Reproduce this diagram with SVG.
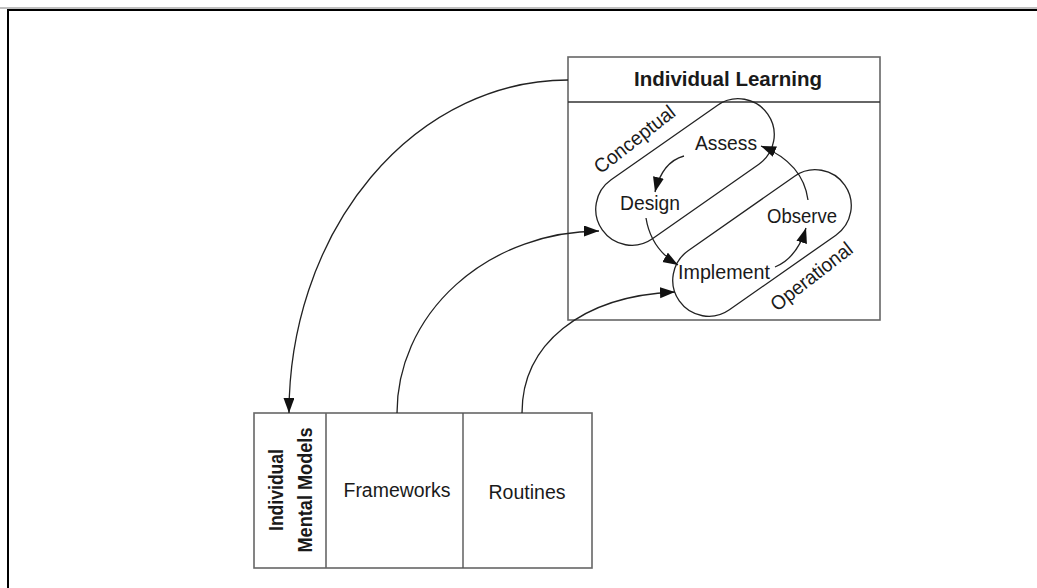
<svg xmlns="http://www.w3.org/2000/svg" width="1037" height="588" viewBox="0 0 1037 588">
<style>
.t{font-family:"Liberation Sans",Arial,sans-serif;font-size:20px;fill:#1a1a1a;text-anchor:middle}
.b{font-weight:bold}
.box{fill:#fff;stroke:#666;stroke-width:1.6}
.pill{fill:none;stroke:#222;stroke-width:1.3}
.con{fill:none;stroke:#222;stroke-width:1.3}
</style>
<defs>
<marker id="ah" markerUnits="userSpaceOnUse" markerWidth="16" markerHeight="12" refX="15" refY="5.5" orient="auto">
<path d="M0,0 L15,5.5 L0,11 z" fill="#111"/>
</marker>
</defs>
<rect width="1037" height="588" fill="#fff"/>
<line x1="0" y1="8" x2="1037" y2="8" stroke="#aaa" stroke-width="1.5"/>
<rect x="8" y="10" width="1040" height="600" fill="none" stroke="#000" stroke-width="2"/>

<g id="individual-learning">
<rect class="box" x="568" y="57" width="312" height="263"/>
<line x1="568" y1="102" x2="880" y2="102" stroke="#333" stroke-width="1.3"/>
<text class="t b" x="728" y="86" textLength="188" lengthAdjust="spacingAndGlyphs">Individual Learning</text>
</g>

<g id="conceptual">
<rect class="pill" x="-101" y="-36" width="202" height="72" rx="36" transform="translate(685,172) rotate(-35)"/>
<text class="t" transform="translate(635,140) rotate(-38)" y="6" textLength="97" lengthAdjust="spacingAndGlyphs">Conceptual</text>
</g>

<g id="operational">
<rect class="pill" x="-101" y="-36" width="202" height="72" rx="36" transform="translate(762,243) rotate(-35)"/>
<text class="t" transform="translate(812,277) rotate(-38)" y="6" textLength="98" lengthAdjust="spacingAndGlyphs">Operational</text>
</g>

<g id="assess"><text class="t" x="726" y="150" textLength="62" lengthAdjust="spacingAndGlyphs">Assess</text></g>
<g id="design"><text class="t" x="650" y="210" textLength="60" lengthAdjust="spacingAndGlyphs">Design</text></g>
<g id="observe"><text class="t" x="802" y="223" textLength="70" lengthAdjust="spacingAndGlyphs">Observe</text></g>
<g id="implement"><text class="t" x="724" y="279" textLength="92" lengthAdjust="spacingAndGlyphs">Implement</text></g>

<g id="mental-models">
<rect class="box" x="254" y="413" width="338" height="155"/>
<line x1="326" y1="413" x2="326" y2="568" stroke="#666" stroke-width="1.6"/>
<line x1="463" y1="413" x2="463" y2="568" stroke="#555" stroke-width="1.4"/>
<text class="t b" transform="translate(283,490) rotate(-90)" textLength="82" lengthAdjust="spacingAndGlyphs">Individual</text>
<text class="t b" transform="translate(312,490) rotate(-90)" textLength="125" lengthAdjust="spacingAndGlyphs">Mental Models</text>
</g>
<g id="frameworks"><text class="t" x="397" y="497" textLength="107" lengthAdjust="spacingAndGlyphs">Frameworks</text></g>
<g id="routines"><text class="t" x="527" y="499" textLength="77" lengthAdjust="spacingAndGlyphs">Routines</text></g>

<g id="connectors">
<path class="con" d="M568,80 A279,333 0 0 0 289,413" marker-end="url(#ah)"/>
<path class="con" d="M397,413 A203,182 0 0 1 599,231" marker-end="url(#ah)"/>
<path class="con" d="M522,413 C522,345 580,296 675,292" marker-end="url(#ah)"/>
<path class="con" d="M684,156 Q662,162 655,192" marker-end="url(#ah)"/>
<path class="con" d="M646,218 Q651,249 678,265" marker-end="url(#ah)"/>
<path class="con" d="M775,267 Q797,258 806,228" marker-end="url(#ah)"/>
<path class="con" d="M808,200 Q803,163 761,146" marker-end="url(#ah)"/>
</g>
</svg>
